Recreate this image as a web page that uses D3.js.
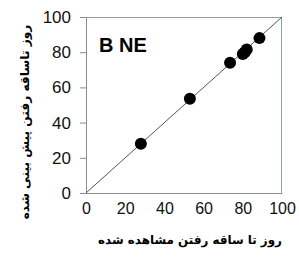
<!DOCTYPE html>
<html>
<head>
<meta charset="utf-8">
<script src="https://cdn.jsdelivr.net/npm/d3@7"></script>
<style>
  body { margin: 0; background: #fff; }
  svg { display: block; }
</style>
</head>
<body>
<div class="chart"></div>
<script>
// data
const observed = [28, 53, 73.5, 80, 81, 82, 88.5];
const predicted = [28, 53.5, 74, 79, 80, 81.5, 88];
const ticks = [0, 20, 40, 60, 80, 100];
const panelLabel = "B NE";
const xTitle = "روز تا ساقه رفتن مشاهده شده";
const yTitle = "روز تاساقه رفتن پیش بینی شده";

const data = observed.map((o, i) => ({obs: o, pred: predicted[i]}));

const width = 299, height = 258;
const margin = ({top: 17, right: 17, bottom: 65, left: 86});
const w = width - margin.left - margin.right;
const h = height - margin.top - margin.bottom;

const svg = d3.select(".chart")
    .append('svg')
    .attr('width', width)
    .attr('height', height);

const g = svg.append('g')
    .attr('transform', 'translate(' + margin.left + ',' + margin.top + ')');

const xScale = d3.scaleLinear().domain([0, 100]).range([0, w]);
const yScale = d3.scaleLinear().domain([0, 100]).range([h, 0]);

// top and right border (blue)
g.append('path')
    .attr('d', `M0,0.5H${w - 0.5}V${h}`)
    .attr('fill', 'none')
    .attr('stroke', '#7ea3d3')
    .attr('stroke-width', 1);

// y axis
g.append('g')
    .attr('class', 'y-axis')
    .call(d3.axisLeft(yScale).tickValues(ticks).tickSize(6).tickPadding(9))
    .call(a => a.select('.domain').attr('stroke', '#8c8c8c'))
    .call(a => a.selectAll('.tick line').attr('stroke', '#8c8c8c'))
    .call(a => a.selectAll('.tick text')
        .attr('font-family', 'Arial, "Liberation Sans", sans-serif')
        .attr('font-size', 17)
        .attr('fill', '#111'));

// x axis
g.append('g')
    .attr('class', 'x-axis')
    .attr('transform', 'translate(0,' + h + ')')
    .call(d3.axisBottom(xScale).tickValues(ticks).tickSize(0).tickPadding(10))
    .call(a => a.select('.domain').attr('stroke', '#8c8c8c'))
    .call(a => a.selectAll('.tick text')
        .attr('font-family', 'Arial, "Liberation Sans", sans-serif')
        .attr('font-size', 16)
        .attr('fill', '#111'));

// 1:1 line
g.append('line')
    .attr('x1', xScale(0)).attr('y1', yScale(0))
    .attr('x2', xScale(100)).attr('y2', yScale(100))
    .attr('stroke', '#555')
    .attr('stroke-width', 1);

// points
g.selectAll('circle')
    .data(data)
    .enter()
    .append('circle')
    .attr('cx', d => xScale(d.obs))
    .attr('cy', d => yScale(d.pred))
    .attr('r', 6)
    .attr('fill', '#000');

// panel label
g.append('text')
    .text(panelLabel)
    .attr('x', 13)
    .attr('y', 35)
    .attr('font-family', 'Arial, "Liberation Sans", sans-serif')
    .attr('font-weight', 'bold')
    .attr('font-size', 20)
    .attr('fill', '#000');

// shrink a title's font until it fits the length seen in the picture
function fit(text, target) {
    let size = 13;
    text.attr('font-size', size);
    const len = text.node().getComputedTextLength();
    if (len > 0) text.attr('font-size', size * target / len);
}

// axis titles
svg.append('text')
    .text(xTitle)
    .attr('x', 190)
    .attr('y', 244)
    .attr('text-anchor', 'middle')
    .attr('font-family', '"DejaVu Sans", sans-serif')
    .attr('font-weight', 'bold')
    .attr('fill', '#000')
    .call(fit, 184);

svg.append('text')
    .text(yTitle)
    .attr('transform', 'translate(29,122) rotate(-90)')
    .attr('text-anchor', 'middle')
    .attr('font-family', '"DejaVu Sans", sans-serif')
    .attr('font-weight', 'bold')
    .attr('fill', '#000')
    .call(fit, 195);
</script>
</body>
</html>
